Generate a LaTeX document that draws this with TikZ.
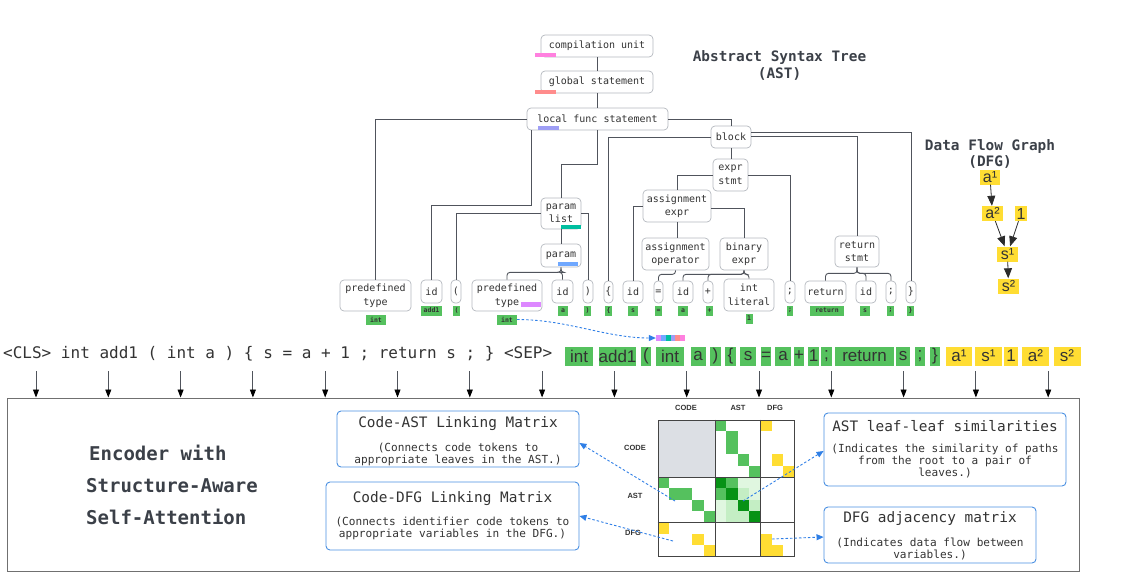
\documentclass[tikz,border=0pt]{standalone}
\usepackage{fontspec}
\usetikzlibrary{arrows.meta}
\newfontfamily\monof{DejaVu Sans Mono}
\newfontfamily\sansf{Liberation Sans}
\definecolor{txt}{HTML}{333333}
\definecolor{ttl}{HTML}{3B4048}
\definecolor{nodegray}{HTML}{B4B8BF}
\definecolor{linegray}{HTML}{50545C}
\definecolor{lgreen}{HTML}{55C15E}
\definecolor{dyellow}{HTML}{FFDD33}
\definecolor{mgray}{HTML}{DCDFE4}
\definecolor{dgreen}{HTML}{079215}
\definecolor{vlgreen}{HTML}{E0F7E0}
\definecolor{lgreenb}{HTML}{C4EEC4}
\definecolor{cblue}{HTML}{4A90E2}
\definecolor{dblue}{HTML}{2F7FE6}
\definecolor{boxgray}{HTML}{707070}
\definecolor{mgrid}{HTML}{444444}
\definecolor{barpink}{HTML}{FF80DF}
\definecolor{barsalmon}{HTML}{FF8C8C}
\definecolor{barpurple}{HTML}{9E9EF5}
\definecolor{barteal}{HTML}{00BFA0}
\definecolor{barblue}{HTML}{6FA8FF}
\definecolor{barlilac}{HTML}{DD88FF}
\newcommand{\mcell}[3]{\fill[#3] ({658+#1*11.4},{420+#2*11.4}) rectangle ++(11.4,11.4);}
\begin{document}
\begin{tikzpicture}[x=1pt,y=-1pt,
  tn/.style={draw=nodegray, line width=0.7pt, rounded corners=4pt, fill=white, text=txt, align=center, inner sep=0pt, font=\monof\fontsize{10}{13.5}\selectfont},
  sz/.style 2 args={minimum width=#1pt, minimum height=#2pt},
  conn/.style={draw=linegray, line width=0.9pt},
  brk/.style={conn, rounded corners=3pt},
  lab/.style={fill=lgreen, text=txt, inner sep=0pt, minimum height=10pt, font=\monof\bfseries\fontsize{6.5}{7}\selectfont},
  tok/.style={fill=lgreen, text=txt, inner sep=0pt, minimum height=19pt, font=\sansf\fontsize{17}{18}\selectfont},
  ytok/.style={tok, fill=dyellow},
  dfgn/.style={fill=dyellow, text=txt, inner sep=0.5pt, minimum height=15pt, font=\sansf\fontsize{16}{16}\selectfont},
  dfa/.style={draw={rgb,255:red,43;green,43;blue,43}, line width=0.8pt, -{Triangle[length=10pt,width=8pt]}},
  tka/.style={draw=linegray, line width=0.9pt, -{Triangle[length=8pt,width=6pt,fill=black,color=black]}},
  cbox/.style={draw=cblue, line width=0.9pt, rounded corners=4pt, fill=white, inner sep=0pt},
  ctitle/.style={font=\monof\fontsize{14.4}{17}\selectfont, text=txt, inner sep=0pt},
  csub/.style={font=\monof\fontsize{11.1}{12}\selectfont, text=txt, align=center, inner sep=0pt},
  dsh/.style={draw=dblue, line width=0.9pt, dash pattern=on 2.5pt off 2pt, -{Triangle[length=7pt,width=6pt]}},
  mlab/.style={font=\sansf\bfseries\fontsize{7.5}{8}\selectfont, text=txt, inner sep=0pt},
  enct/.style={font=\monof\bfseries\fontsize{19}{22}\selectfont, text=ttl, anchor=base west, inner sep=0pt}
]
\useasboundingbox (0,0) rectangle (1125,579);

% ---------- titles ----------
\node[font=\monof\bfseries\fontsize{14.4}{17}\selectfont, text=ttl, align=center, inner sep=0pt] (astt) at (779.5,65.5) {Abstract Syntax Tree\\(AST)};
\node[font=\monof\bfseries\fontsize{14.4}{15.5}\selectfont, text=ttl, align=center, inner sep=0pt] (dfgt) at (990,154) {Data Flow Graph\\(DFG)};

% ---------- AST internal nodes ----------
\node[tn,sz={112}{22}] (cu) at (597,46) {compilation unit};
\node[tn,sz={112}{22}] (gs) at (597,82) {global statement};
\node[tn,sz={141}{22}] (lf) at (597.5,119) {local func statement};
\node[tn,sz={40}{22}] (block) at (731,137) {block};
\node[tn,sz={35}{32}] (es) at (730.5,175) {expr\\stmt};
\node[tn,sz={68}{32}] (ae) at (677,206) {assignment\\expr};
\node[tn,sz={67}{32}] (ao) at (675.5,254) {assignment\\operator};
\node[tn,sz={48}{32}] (be) at (744,254) {binary\\expr};
\node[tn,sz={44}{31}] (rs) at (857,251.5) {return\\stmt};
\node[tn,sz={40}{31}] (pl) at (561,213.5) {param\\list};
\node[tn,sz={40}{23}] (pm) at (561,255.5) {param};

% ---------- AST leaves ----------
\node[tn,sz={71}{31}] (pt1) at (375.5,295.5) {predefined\\type};
\node[tn,sz={21}{23}] (id1) at (431.5,291.5) {id};
\node[tn,sz={10}{23}] (lp) at (456,291.5) {(};
\node[tn,sz={70}{31}] (pt2) at (507,295.5) {predefined\\type};
\node[tn,sz={21}{23}] (id2) at (562.5,291.5) {id};
\node[tn,sz={10}{23}] (rp) at (588,291.5) {)};
\node[tn,sz={9}{22}] (lb) at (608.5,292) {\{};
\node[tn,sz={20}{22}] (id3) at (633,292) {id};
\node[tn,sz={9}{22}] (eq) at (658.5,292) {=};
\node[tn,sz={20}{22}] (id4) at (683,292) {id};
\node[tn,sz={10}{22}] (pls) at (708,292) {+};
\node[tn,sz={50}{32}] (il) at (749,295) {int\\literal};
\node[tn,sz={10}{22}] (sc1) at (790,292) {;};
\node[tn,sz={41}{22}] (ret) at (825.5,292) {return};
\node[tn,sz={20}{22}] (id5) at (866,292) {id};
\node[tn,sz={10}{22}] (sc2) at (891,292) {;};
\node[tn,sz={10}{22}] (rb) at (911,292) {\}};

% ---------- tree connectors ----------
\draw[conn] (cu.south) -- (cu.south |- gs.north);
\draw[conn] (gs.south) -- (gs.south |- lf.north);
\draw[conn] (lf.west) -| (pt1.north);
\draw[conn] ([xshift=5pt]lf.south west) -- ++(0,75) -| (id1.north);
\draw[conn] (lf.south) -- ++(0,34) -| (pl.north);
\draw[conn] (lf.east) -| (block.north);
\draw[conn] (pl.west) -| (lp.north);
\draw[conn] (pl.east) -| (rp.north);
\draw[conn] (pl.south) -- (pm.north);
\draw[brk] (pm.south) -- ++(0,5) -| (pt2.north);
\draw[brk] (pm.south) -- ++(0,5) -| (id2.north);
\draw[conn] (block.west) -| (lb.north);
\draw[conn] ([yshift=4.5pt]block.east) -| (rb.north);
\draw[conn] ([yshift=0.5pt]block.east) -| (rs.north);
\draw[conn] (block.south) -- (block.south |- es.north);
\draw[conn] (es.west) -| (ae.north);
\draw[conn] (es.east) -| (sc1.north);
\draw[conn] (ae.west) -| (id3.north);
\draw[conn] (ae.south) -- (ae.south |- ao.north);
\draw[conn] ([yshift=-2pt]ae.east) -| (be.north);
\draw[brk] (ao.south) -- ++(0,4) -| (eq.north);
\foreach \c in {id4,pls,il} \draw[brk] (be.south) -- ++(0,4) -| (\c.north);
\foreach \c in {ret,id5,sc2} \draw[brk] (rs.south) -- ++(0,6) -| (\c.north);

% ---------- colour bars ----------
\fill[barpink] (535,53) rectangle (556,57);
\fill[barsalmon] (535,90) rectangle (556,94);
\fill[barpurple] (538,126) rectangle (559,130);
\fill[barteal] (561,224.5) rectangle (581,229);
\fill[barblue] (558,261.5) rectangle (578,266);
\fill[barlilac] (521,302) rectangle (541,307);

% ---------- leaf token labels ----------
\node[lab,minimum width=20pt] (lpt1) at (376,319.5) {int};
\node[lab,minimum width=21pt] (lid1) at (431.5,310.5) {add1};
\node[lab,minimum width=7pt] (llp) at (456.5,310.5) {(};
\node[lab,minimum width=20pt] (lpt2) at (507,319.5) {int};
\node[lab,minimum width=10pt] (lid2) at (563,310.5) {a};
\node[lab,minimum width=7pt] (lrp) at (587.5,310.5) {)};
\node[lab,minimum width=7pt] (llb) at (608.5,310.5) {\{};
\node[lab,minimum width=10pt] (lid3) at (633,310.5) {s};
\node[lab,minimum width=7pt] (leq) at (658.5,310.5) {=};
\node[lab,minimum width=10pt] (lid4) at (683,310.5) {a};
\node[lab,minimum width=7pt] (lpl) at (709.5,310.5) {+};
\node[lab,minimum width=7pt] (lil) at (749,318.5) {1};
\node[lab,minimum width=6pt] (lsc1) at (790,310.5) {;};
\node[lab,minimum width=34pt] (lret) at (827,310.5) {return};
\node[lab,minimum width=10pt] (lid5) at (865,310.5) {s};
\node[lab,minimum width=7pt] (lsc2) at (890.5,310.5) {;};
\node[lab,minimum width=7pt] (lrb) at (910.5,310.5) {\}};

% ---------- path strip ----------
\foreach \col [count=\k from 0] in {barlilac,barblue,barteal,barpurple,barsalmon,barpink}
  \node[fill=\col, inner sep=0pt, minimum width=4.9pt, minimum height=6pt] (s\k) at ({658.5+4.85*\k},338) {};
\draw[dsh] (lpt2.east) .. controls +(50,0) and +(-50,0) .. (s0.west);

% ---------- DFG ----------
\node[dfgn,minimum width=20pt] (d1) at (990,177) {a¹};
\node[dfgn,minimum width=21pt] (d2) at (992.5,213.5) {a²};
\node[dfgn,minimum width=12pt] (d3) at (1021,213.5) {1};
\node[dfgn,minimum width=21pt] (d4) at (1007.5,254) {s¹};
\node[dfgn,minimum width=21pt] (d5) at (1008.5,286) {s²};
\draw[dfa] (d1) -- (d2);
\draw[dfa] (d2) -- (d4);
\draw[dfa] (d3) -- (d4);
\draw[dfa] (d4) -- (d5);

% ---------- input sequence ----------
\node[anchor=west, inner sep=0pt, font=\monof\fontsize{16}{18}\selectfont, text=txt] (seq) at (3,354) {<CLS> int add1 ( int a ) \{ s = a + 1 ; return s ; \} <SEP>};
\node[tok,minimum width=28pt] (t1) at (579,356) {int};
\node[tok,minimum width=37pt] (t2) at (617.5,356) {add1};
\node[tok,minimum width=10pt] (t3) at (646,356) {(};
\node[tok,minimum width=28pt] (t4) at (670,356) {int};
\node[tok,minimum width=15pt] (t5) at (698,356) {a};
\node[tok,minimum width=11pt] (t6) at (715.5,356) {)};
\node[tok,minimum width=11pt] (t7) at (730.5,356) {\{};
\node[tok,minimum width=16pt] (t8) at (748,356) {s};
\node[tok,minimum width=10pt] (t9) at (766,356) {=};
\node[tok,minimum width=16pt] (t10) at (783,356) {a};
\node[tok,minimum width=10pt] (t11) at (799,356) {+};
\node[tok,minimum width=11pt] (t12) at (813.5,356) {1};
\node[tok,minimum width=11pt] (t13) at (826.5,356) {;};
\node[tok,minimum width=59pt] (t14) at (864.5,356) {return};
\node[tok,minimum width=14pt] (t15) at (903,356) {s};
\node[tok,minimum width=10pt] (t16) at (920,356) {;};
\node[tok,minimum width=10pt] (t17) at (935,356) {\}};
\node[ytok,minimum width=26pt] (y1) at (959,356) {a¹};
\node[ytok,minimum width=27pt] (y2) at (988.5,356) {s¹};
\node[ytok,minimum width=14pt] (y3) at (1011,356) {1};
\node[ytok,minimum width=27pt] (y4) at (1035.5,356) {a²};
\node[ytok,minimum width=27pt] (y5) at (1067,356) {s²};

% ---------- encoder box ----------
\node[draw=boxgray, line width=1pt, minimum width=1072pt, minimum height=173pt, inner sep=0pt] (enc) at (543,484.5) {};
\foreach \i in {0,...,14} {
  \coordinate (a\i) at ({36+72.3*\i},371);
  \draw[tka] (a\i) -- (a\i |- enc.north);
}
\node[enct] (e1) at (89,460.5) {Encoder with};
\node[enct] (e2) at (86,492.5) {Structure-Aware};
\node[enct] (e3) at (86,524.5) {Self-Attention};

% ---------- matrix ----------
\fill[mgray] (658,420) rectangle (715,477);
\foreach \cc/\rr in {5/0,6/1,6/2,7/3,8/4, 0/5,1/6,2/6,3/7,4/8} {\mcell{\cc}{\rr}{lgreen}}
\foreach \cc/\rr in {9/0,10/3,11/4, 0/9,3/10,4/11, 9/10,9/11,10/11} {\mcell{\cc}{\rr}{dyellow}}
\mcell{5}{5}{dgreen}\mcell{6}{5}{lgreen}\mcell{7}{5}{vlgreen}\mcell{8}{5}{vlgreen}
\mcell{5}{6}{lgreen}\mcell{6}{6}{dgreen}\mcell{7}{6}{lgreenb}\mcell{8}{6}{vlgreen}
\mcell{5}{7}{vlgreen}\mcell{6}{7}{lgreenb}\mcell{7}{7}{dgreen}\mcell{8}{7}{lgreenb}
\mcell{5}{8}{vlgreen}\mcell{6}{8}{lgreenb}\mcell{7}{8}{lgreenb}\mcell{8}{8}{dgreen}
\node[draw=mgrid, line width=0.9pt, minimum size=136.8pt, inner sep=0pt] (mat) at (726.4,488.4) {};
\draw[mgrid, line width=0.9pt] (mat.north west -| 715,0) -- (mat.south west -| 715,0);
\draw[mgrid, line width=0.9pt] (mat.north west -| 760.6,0) -- (mat.south west -| 760.6,0);
\draw[mgrid, line width=0.9pt] (mat.north west |- 0,477) -- (mat.north east |- 0,477);
\draw[mgrid, line width=0.9pt] (mat.north west |- 0,522.6) -- (mat.north east |- 0,522.6);
\node[mlab] (mc1) at (686,408) {CODE};
\node[mlab] (mc2) at (738,408) {AST};
\node[mlab] (mc3) at (775,408) {DFG};
\node[mlab] (mr1) at (635,448) {CODE};
\node[mlab] (mr2) at (635,496) {AST};
\node[mlab] (mr3) at (633,533) {DFG};

% ---------- callouts ----------
\node[cbox,sz={242}{56}] (c1) at (458,439) {};
\node[ctitle] (c1t) at (458,424) {Code-AST Linking Matrix};
\node[csub] (c1s) at (458,454) {(Connects code tokens to\\appropriate leaves in the AST.)};
\node[cbox,sz={253}{68}] (c2) at (452.5,516) {};
\node[ctitle] (c2t) at (452.5,499) {Code-DFG Linking Matrix};
\node[csub] (c2s) at (452.5,528) {(Connects identifier code tokens to\\appropriate variables in the DFG.)};
\node[cbox,sz={242}{73}] (c3) at (945,449.5) {};
\node[ctitle] (c3t) at (945,426) {AST leaf-leaf similarities};
\node[csub] (c3s) at (945,461) {(Indicates the similarity of paths\\from the root to a pair of\\leaves.)};
\node[cbox,sz={212}{56}] (c4) at (930,535) {};
\node[ctitle] (c4t) at (930,519) {DFG adjacency matrix};
\node[csub] (c4s) at (930,548.5) {(Indicates data flow between\\variables.)};

\coordinate (m1) at (675,501);
\coordinate (m2) at (673,541);
\coordinate (m3) at (743,501);
\coordinate (m4) at (772,539);
\draw[dsh] (m1) -- ([yshift=-4pt]c1.east);
\draw[dsh] (m2) -- (c2.east);
\draw[dsh] (m3) -- ([yshift=-1.5pt]c3.west);
\draw[dsh] (m4) -- ([yshift=-2pt]c4.west);
\end{tikzpicture}
\end{document}
